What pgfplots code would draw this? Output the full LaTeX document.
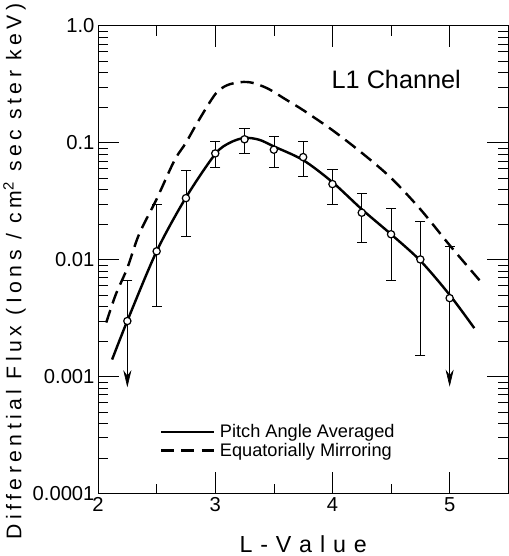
\documentclass[border=0pt]{standalone}
\usepackage{pgfplots}
\pgfplotsset{compat=1.18}
\usepackage{fontspec}
\setmainfont{Liberation Sans}
\newfontfamily\lblfont[LetterSpace=21]{Liberation Sans}
\newfontfamily\xlblfont[LetterSpace=6]{Liberation Sans}
\usetikzlibrary{arrows.meta}
\begin{document}
\begin{tikzpicture}
\begin{axis}[
  scale only axis, width=406pt, height=463pt,
  xmin=2, xmax=5.5, ymode=log, ymin=1e-4, ymax=1,
  xtick={2,3,4,5}, xticklabels={2,3,4,5},
  minor xtick={2.5,3.5,4.5},
  ytick={1e-4,1e-3,1e-2,1e-1,1},
  yticklabels={0.0001,0.001,0.01,0.1,1.0},
  tick align=inside,
  major tick length=21pt, minor tick length=10pt,
  tick style={black, line width=0.6pt},
  axis line style={line width=0.9pt},
  /pgf/number format/assume math mode=true,
  tick label style={font=\fontsize{20}{20}\selectfont},
  xlabel={L - V a l u e},
  xlabel style={font=\xlblfont\fontsize{23}{23}\selectfont},
  xlabel shift=17pt,
  ylabel={Differential Flux (Ions / cm\textsuperscript{2} sec ster keV)},
  ylabel style={font=\lblfont\fontsize{21}{21}\selectfont, at={(ticklabel cs:0.475)}},
  legend style={at={(0.143,0.112)}, anchor=west, draw=none, fill=none,
    font=\fontsize{18}{20}\selectfont, row sep=0pt,
    nodes={inner xsep=5pt}},
  legend cell align=left,
  legend image code/.code={\draw[#1] (0pt,0pt) -- (52pt,0pt);},
]
% error bars
\addplot[line width=0.6pt, mark=-, mark size=5pt, forget plot] coordinates {(2.5,0.0298) (2.5,0.00403)};
\addplot[line width=0.6pt, mark=-, mark size=5pt, forget plot] coordinates {(2.75,0.0582) (2.75,0.0157)};
\addplot[line width=0.6pt, mark=-, mark size=5pt, forget plot] coordinates {(3.0,0.1037) (3.0,0.0618)};
\addplot[line width=0.6pt, mark=-, mark size=5pt, forget plot] coordinates {(3.25,0.133) (3.25,0.082)};
\addplot[line width=0.6pt, mark=-, mark size=5pt, forget plot] coordinates {(3.5,0.1145) (3.5,0.0614)};
\addplot[line width=0.6pt, mark=-, mark size=5pt, forget plot] coordinates {(3.75,0.102) (3.75,0.0517)};
\addplot[line width=0.6pt, mark=-, mark size=5pt, forget plot] coordinates {(4.0,0.059) (4.0,0.0296)};
\addplot[line width=0.6pt, mark=-, mark size=5pt, forget plot] coordinates {(4.25,0.0366) (4.25,0.0140)};
\addplot[line width=0.6pt, mark=-, mark size=5pt, forget plot] coordinates {(4.5,0.0275) (4.5,0.00671)};
\addplot[line width=0.6pt, mark=-, mark size=5pt, forget plot] coordinates {(4.75,0.0214) (4.75,0.00151)};
% upper limits with arrows
\addplot[line width=0.6pt, -{Stealth[length=17pt,width=8pt]}, forget plot] coordinates {(2.25,0.00671) (2.25,0.00081)};
\addplot[only marks, mark=-, mark size=5pt, mark options={line width=0.6pt}, forget plot] coordinates {(2.25,0.00671)};
\addplot[line width=0.6pt, -{Stealth[length=17pt,width=8pt]}, forget plot] coordinates {(5.0,0.0130) (5.0,0.00082)};
\addplot[only marks, mark=-, mark size=5pt, mark options={line width=0.6pt}, forget plot] coordinates {(5.0,0.0130)};
% pitch angle averaged
\addplot[black, line width=2.4pt, smooth] coordinates {
(2.12,0.0014) (2.25,0.0030) (2.5,0.0118) (2.75,0.034) (3.0,0.080) (3.125,0.100)
(3.25,0.110) (3.375,0.106) (3.5,0.093) (3.75,0.071) (4.0,0.046) (4.25,0.027)
(4.5,0.0165) (4.75,0.0098) (5.0,0.0050) (5.21,0.0026)};
\addlegendentry{Pitch Angle Averaged}
% equatorially mirroring
\addplot[black, line width=2.4pt, smooth, dash pattern=on 13pt off 7pt] coordinates {
(2.07,0.0029) (2.15,0.0050) (2.25,0.0085) (2.35,0.0165) (2.5,0.033) (2.65,0.070)
(2.75,0.100) (2.85,0.150) (3.0,0.26) (3.1,0.31) (3.22,0.33) (3.32,0.325)
(3.45,0.29) (3.6,0.235) (3.75,0.19) (4.0,0.128) (4.25,0.082) (4.5,0.050)
(4.75,0.027) (5.0,0.0133) (5.27,0.0064)};
\addlegendentry{Equatorially Mirroring}
% data points
\addplot[only marks, mark=*, mark size=3.6pt, mark options={fill=white, draw=black, line width=1.2pt}, forget plot] coordinates {
(2.25,0.00299) (2.5,0.0118) (2.75,0.0336) (3.0,0.081) (3.25,0.107) (3.5,0.0872)
(3.75,0.0754) (4.0,0.0443) (4.25,0.0252) (4.5,0.0165) (4.75,0.01005) (5.0,0.00469)};
\node[anchor=center, font=\fontsize{25}{25}\selectfont] at (rel axis cs:0.727,0.886) {L1 Channel};
\end{axis}
\end{tikzpicture}
\end{document}
